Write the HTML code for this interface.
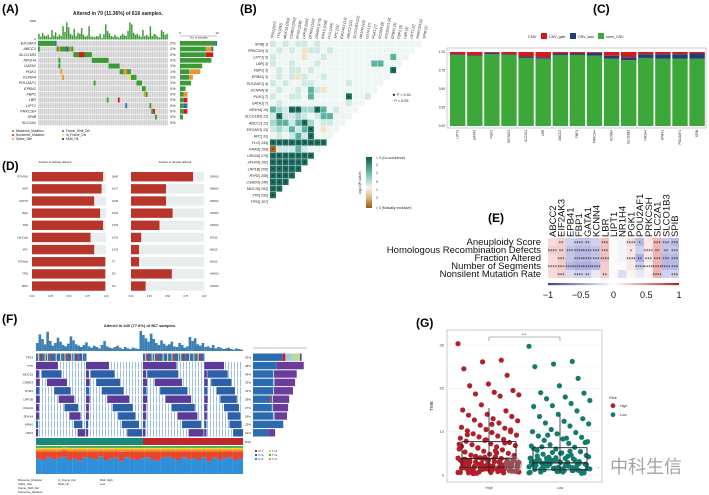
<!DOCTYPE html>
<html><head><meta charset="utf-8"><style>
html,body{margin:0;padding:0;background:#fff;}
svg{display:block;font-family:"Liberation Sans","Noto Sans CJK SC",sans-serif;}
</style></head><body>
<svg id="fig" width="709" height="495" viewBox="0 0 709 495" xmlns="http://www.w3.org/2000/svg">
<defs>
<pattern id="sparse" width="3" height="8" patternUnits="userSpaceOnUse"><rect x="0" y="0" width="0.9" height="8" fill="#8fb8dc"/></pattern>
<linearGradient id="cbar" x1="0" y1="0" x2="0" y2="1"><stop offset="0" stop-color="#0f5a4e"/><stop offset="0.35" stop-color="#7cc4b5"/><stop offset="0.6" stop-color="#f6f4ee"/><stop offset="0.8" stop-color="#dcb878"/><stop offset="1" stop-color="#9a5a12"/></linearGradient>
<linearGradient id="ecbar" x1="0" y1="0" x2="1" y2="0"><stop offset="0" stop-color="#3b3b9a"/><stop offset="0.5" stop-color="#ffffff"/><stop offset="1" stop-color="#b22222"/></linearGradient>
</defs>
<text x="2" y="13" font-size="12" font-weight="bold">(A)</text>
<text x="240" y="13" font-size="12" font-weight="bold">(B)</text>
<text x="593" y="13" font-size="12" font-weight="bold">(C)</text>
<text x="2" y="170" font-size="12" font-weight="bold">(D)</text>
<text x="488" y="222" font-size="12" font-weight="bold">(E)</text>
<text x="2" y="323" font-size="12" font-weight="bold">(F)</text>
<text x="416" y="327" font-size="12" font-weight="bold">(G)</text>
<g id="root"></g>
</svg>
<script>
// ---------- DATA ----------
const aGenes=["EIF2AK3","ABCC2","SLCO1B3","NR1H4","GATA1","PGK1","KCNN4","POU2AF1","EPB41","FBP1","LBR","LIPT1","PRKCSH","SPIB","SLC2A1"];
const aPct=["2%","2%","2%","2%","1%","1%","1%","1%","0%","0%","0%","0%","0%","0%","0%"];
const aTmb=[300,150,350,200,180,250,120,500,200,380,150,260,180,700,400,900,650,300,220,560,180,350,300,600,250,150,200,700,160,150,120,180,160,300,90,280,800,450,320,180,150,250,160,100,200,300,220,180,450,900,800,350,250,300,200,150,500,180,250,160,700,180,300,250,150,100,500,400,250,300];
const aMut=[[0,0,9,"g"],[0,9,1,"b"],[1,0,1,"g"],[1,10,9,"g"],[1,11,1,"o"],[1,15,1,"b"],[1,17,1,"o"],[2,19,10,"g"],[2,22,3,"r"],[3,29,9,"g"],[3,11,1,"g"],[4,38,6,"g"],[4,11,1,"g"],[5,44,6,"g"],[5,46,2,"o"],[5,12,1,"o"],[6,50,3,"g"],[6,13,1,"o"],[6,49,1,"y"],[7,53,3,"g"],[7,30,1,"g"],[8,56,2,"g"],[9,58,1,"g"],[9,57,1,"o"],[10,37,1,"g"],[10,43,1,"r"],[11,60,1,"g"],[11,47,1,"b"],[12,61,1,"g"],[12,62,1,"r"],[13,63,1,"g"]];
const aBarG=[9.5,7,7,8.5,6,2.5,2.5,3,1.5,1,1,1,1,0.8,0];
const aBarO=[0,1.5,0,0,0,3,1,0,0,1,0,0,0,0,0];
const aBarR=[0,0,2,0,0,0,0,0,0,0,1,0,1,0,0];
const aBarB=[0.5,0.5,0,0,0,0,0,0,0,0,0,1,0,0,0];

const bCols=["TP53 [307]","TTN [292]","MUC16 [253]","CSMD3 [240]","RYR2 [208]","LRP1B [200]","ZFHX4 [192]","USH2A [176]","KRAS [159]","FLG [144]","APC [31]","EIF2AK3 [13]","ABCC2 [12]","SLCO1B3 [12]","NR1H4 [10]","GATA1 [7]","PGK1 [7]","KCNN4 [6]","POU2AF1 [4]","EPB41 [3]","FBP1 [3]","LBR [3]","LIPT1 [2]","PRKCSH [1]","SPIB [1]"];
const bRows=["101011010000000000000000","01010a11010000000000000","10000a0010000000000300","100100010000000033","01011010000000000004","0101a100100","1010011000001","01001031a00","1001103000004001","0100000000001","32144224301","1411210133","2331342011","12131340a","0101314","444444444","b1113100","4444444","444444","44444","4444","444","44","4",""];

const cGenes=["LIPT1","GATA1","PGK1","EIF2AK3","SLC2A1","LBR","ABCC2","FBP1","PRKCSH","KCNN4","SLCO1B3","NR1H4","EPB41","POU2AF1","SPIB"];
const cGain=[0.03,0.04,0.01,0.03,0.06,0.07,0.02,0.02,0.01,0.05,0.07,0.03,0.03,0.03,0.02];
const cLoss=[0.01,0.01,0.02,0.01,0.02,0.02,0.02,0.02,0.04,0.04,0.04,0.05,0.06,0.06,0.07];
const cTicks=[0,0.25,0.5,0.75,1];

const dPaths=["RTK-RAS","WNT","NOTCH","Hippo","PI3K","Cell-Cycle","MYC","TGF-Beta","TP53","NRF2"];
const dLeft=[0.96,0.94,0.84,0.92,0.96,0.79,0.84,0.99,0.99,0.99];
const dRight=[0.85,0.48,0.48,0.57,0.39,0.14,0.11,0.11,0.56,0.20];
const dLeftN=["38/40","16/17","40/48","31/34","27/29","10/13","10/13","7/7","5/5","3/3"];
const dRightN=["529/616","298/616","296/616","352/616","240/616","87/616","68/616","66/616","344/616","124/616"];
const dTicks=["0.00","0.25","0.50","0.75","1.00"];

const eGenes=["ABCC2","EIF2AK3","EPB41","FBP1","GATA1","KCNN4","LBR","LIPT1","NR1H4","PGK1","POU2AF1","PRKCSH","SLC2A1","SLCO1B3","SPIB"];
const eRows=["Aneuploidy Score","Homologous Recombination Defects","Fraction Altered","Number of Segments","Nonsilent Mutation Rate"];
const eCorr=[[0.15,0.2,-0.2,-0.25,-0.25,-0.2,0.25,0.02,-0.05,0.15,-0.3,0.1,0.3,-0.25,-0.3],
[0.2,0.2,-0.25,-0.3,-0.3,-0.25,0.25,0.02,-0.05,0.1,-0.2,0.1,0.3,-0.25,-0.25],
[0.15,0.2,-0.25,-0.3,-0.3,-0.25,0.25,0.02,-0.05,0.1,-0.35,0.1,0.3,-0.3,-0.3],
[0.15,0.2,-0.3,-0.35,-0.35,-0.3,0.2,0.02,0.02,0.1,-0.2,0.05,0.3,-0.3,-0.3],
[0.15,0.2,-0.15,-0.2,-0.2,-0.1,0.2,0.02,-0.15,0.05,-0.1,0.05,0.3,-0.2,-0.2]];
const eStars=[["","**","","****","**","","***","","","****","*","","***","***","***"],
["****","**","***","****","****","***","***","","","*","","****","**","**","***"],
["","***","","****","****","***","****","","","****","**","***","***","***","***"],
["****","***","****","****","****","****","","","","","****","****","****","****","***"],
["","***","","****","**","","**","","","","","","****","","***"]];
const eTicks=[-1,-0.5,0,0.5,1];

const fGenes=["TP53","TTN","MUC16","CSMD3","RYR2","LRP1B","USH2A","ZFHX4","KRAS","LRP2"];
const fPct=["52%","48%","34%","33%","31%","28%","27%","26%","23%","21%"];
const fSeg=[[1,0,60,"p"],[1,137,200,"p"],[1,293,385,"p"],[1,461,515,"p"],
[2,0,8,"p"],[2,15,70,"b"],[2,137,145,"p"],[2,150,215,"b"],[2,293,302,"p"],[2,305,390,"b"],[2,461,468,"p"],[2,470,525,"b"],
[3,0,10,"p"],[3,30,85,"p"],[3,137,147,"p"],[3,165,230,"b"],[3,293,304,"p"],[3,325,400,"p"],[3,461,470,"p"],[3,480,535,"b"],
[4,0,9,"b"],[4,50,95,"b"],[4,137,146,"b"],[4,180,240,"b"],[4,293,303,"b"],[4,340,415,"b"],[4,461,469,"b"],[4,495,545,"b"],
[5,0,10,"p"],[5,62,105,"p"],[5,137,147,"p"],[5,195,255,"p"],[5,293,304,"p"],[5,355,425,"p"],[5,461,470,"p"],[5,505,550,"b"],
[6,0,8,"p"],[6,78,115,"b"],[6,137,145,"p"],[6,210,265,"b"],[6,293,302,"p"],[6,372,435,"b"],[6,461,468,"p"],[6,515,556,"b"],
[7,0,8,"p"],[7,92,122,"p"],[7,137,145,"p"],[7,225,272,"b"],[7,293,302,"p"],[7,388,442,"p"],[7,461,468,"p"],[7,525,560,"b"],
[8,0,6,"b"],[8,104,127,"b"],[8,137,143,"b"],[8,235,282,"b"],[8,293,300,"b"],[8,400,452,"b"],[8,461,467,"b"],[8,530,563,"b"],
[9,0,6,"p"],[9,114,135,"p"],[9,137,143,"p"],[9,250,291,"b"],[9,293,300,"p"],[9,418,459,"p"],[9,461,467,"p"],[9,540,567,"b"]];
const fTp53=[[0,137],[293,461]];
const fTp53Cols="bbgrbpbbybgbbrbbpbgbbbyb";
const fTop=[1.2,2.5,1.8,1,2.9,1.5,0.8,1.2,2,1.4,0.9,0.7,1.1,2.2,1.6,1,0.8,0.6,0.9,1.3,0.7,0.5,0.8,0.6,0.4,0.9,1.5,0.7,0.5,0.4,0.6,0.8,0.5,0.3,0.6,0.4,0.3,0.5,0.4,0.3,3,2.4,1.9,1.4,2.6,1.8,1.2,0.9,1.6,1.1,0.8,1,1.4,0.7,0.6,1.2,0.9,0.5,0.7,2.1,1.5,1.9,1,0.8,1.2,0.6,0.7,0.5,0.9,0.4,0.6,0.5,0.3,0.4,0.5,0.3,0.2,0.4,0.3,0.2];
const fRisk=[[0,293,"#1a8a78"],[293,567,"#c0262d"]];
const fRightB=[55,44,37,37,37,33,35,37,56,28];
const fRightR=[5,0,0,0,0,2,0,0,0,0];
const fRightL=[12,0,2,3,2,2,2,3,0,0];
const fRightG=[15,0,0,0,0,0,0,0,0,0];
const fRightP=[3,50,42,38,35,30,28,23,0,13];
const fBlue=[0.55,0.5,0.6,0.52,0.58,0.62,0.5,0.55,0.48,0.6,0.57,0.52,0.63,0.5,0.55,0.58,0.46,0.6,0.54,0.5,0.56,0.6,0.52,0.48,0.58,0.62,0.55,0.5,0.6,0.53,0.57,0.5,0.6,0.45,0.58,0.52,0.56,0.6,0.5,0.55];
const fRed=[0.25,0.3,0.2,0.28,0.22,0.2,0.3,0.25,0.32,0.2,0.23,0.28,0.18,0.3,0.25,0.22,0.33,0.2,0.26,0.3,0.24,0.2,0.28,0.32,0.22,0.18,0.25,0.3,0.2,0.27,0.23,0.3,0.2,0.35,0.22,0.28,0.24,0.2,0.3,0.25];
const fOrange=[0.08,0.08,0.08,0.08,0.08,0.07,0.08,0.08,0.08,0.08,0.08,0.08,0.07,0.08,0.08,0.08,0.09,0.08,0.08,0.08,0.08,0.08,0.08,0.08,0.08,0.08,0.08,0.08,0.08,0.08,0.08,0.08,0.08,0.08,0.08,0.08,0.08,0.08,0.08,0.08];
const fYellow=[0.05,0.05,0.05,0.05,0.05,0.05,0.05,0.05,0.05,0.05,0.05,0.05,0.05,0.05,0.05,0.05,0.05,0.05,0.05,0.05,0.05,0.05,0.05,0.05,0.05,0.05,0.05,0.05,0.05,0.05,0.05,0.05,0.05,0.05,0.05,0.05,0.05,0.05,0.05,0.05];

const gHigh=[30.3,26.5,26.1,24.5,23,21,20.6,19.5,19.1,18.7,18.5,18.2,16.2,15,14.8,14,13.8,13.5,13,12.7,12.5,12,11.5,11,10.8,10.5,10.2,10,9.8,9.5,9.2,9,8.8,8.5,8.2,8,7.8,7.5,7.2,7,6.8,6.5,6.2,6,5.8,5.5,5.3,5,4.8,4.6,4.4,4.2,4,3.9,3.8,3.7,3.6,3.5,3.4,3.3,3.2,3.1,3,2.9,2.8,2.7,2.6,2.5,2.4,2.3,2.2,2.1,2,1.9,1.8,1.7,1.6,1.5,1.4,1.3,1.2,1.1,1,0.9,0.8,0.7,0.6,0.5,4.1,3.3,2.6,1.9,1.4,0.9,5.1,6.3,7.1,2.2,1.5,3.6,2.8,1.2,0.8,4.5,5.6,0.4,0.6,1,1.3,1.7,2.1,2.4,2.9,3.2,3.8,4.3,0.7,1.1,1.6,2,2.7,3.5,0.5,0.9,1.4,1.8,2.3,3,4,6.6,7.4,8.1,9.3,10.4,11.7,0.3,0.8,1.2,2.5,3.4,1.5,2,2.6,1,0.6];
const gLow=[29.7,26.2,25.6,25,22.3,20.6,19,18.9,18,17.6,17.2,16.5,16,15.8,14.8,14,13.5,13,12.4,12,11.8,11.3,10.5,10,9.8,9.5,9,8.7,8.3,8,7.7,7.3,7,6.7,6.4,6,5.7,5.4,5.1,4.8,4.5,4.3,4.1,3.9,3.7,3.5,3.3,3.1,2.9,2.7,2.5,2.3,2.1,1.9,1.7,1.5,1.3,1.1,0.9,0.7,0.5,3.8,2.6,1.4,4.6,5.2,6.1,2.2,1.8,3.3,0.6,1,2.8,4.2,5.5,3.4,2.4,1.6,0.8,3.6,0.4,0.7,1.2,1.5,2,2.5,3,3.5,4,4.4,0.9,1.4,1.9,2.4,2.9,3.2,0.6,1.1,1.6,2.2,2.7,5,6.5,7.5,8.5,9.2,0.5,1,1.5,2,2.6,3.1,1.3,0.8,2.1,3.9];
const gBoxHigh=[0.5,1.8,3.8,7.7,15.5];
const gBoxLow=[0.4,1.2,2.8,6.3,13.8];
const gTicks=[0,10,20,30];

// ---------- HELPERS ----------
const NS="http://www.w3.org/2000/svg";
const root=document.getElementById("root");
function mk(tag,attrs,parent){const e=document.createElementNS(NS,tag);for(const k in attrs)e.setAttribute(k,attrs[k]);(parent||root).appendChild(e);return e;}
function tx(str,x,y,size,extra,parent){const a=Object.assign({x:x,y:y,"font-size":size,fill:"#222"},extra||{});const e=mk("text",a,parent);e.textContent=str;return e;}
const COL={g:"#3a9a35",o:"#e8962e",r:"#d7191c",b:"#2b6cb0",y:"#f5e050",p:"#6a3d9a",m:"#2b6cb0"};

// ---------- PANEL A ----------
(function(){
  const x0=38,x1=168,n=70,cw=(x1-x0)/n,y0=40.5,rh=5.67;
  const g=mk("g",{});  
  let t=tx("Altered in 70 (11.36%) of 616 samples.",118,15,5,{"text-anchor":"middle","font-weight":"bold"},g);
   
  const yT=v=>39.5-(v/1000)*19;
  aTmb.forEach((v,i)=>{const r=mk("rect",{x:x0+i*cw+0.2,y:yT(v),width:cw-0.4,height:39.5-yT(v),fill:"#3a9a35"},g);
     });
  t=tx("1000",36,22,3,{"text-anchor":"end"},g);  
  t=tx("0",36,40,3,{"text-anchor":"end"},g);  
  aGenes.forEach((gn,r)=>{
    for(let c=0;c<n;c++){const e=mk("rect",{x:x0+c*cw+0.15,y:y0+r*rh+0.3,width:cw-0.3,height:rh-0.6,fill:"#d0d0d0"},g);
       }
    let l=tx(gn,36,y0+r*rh+4,3.8,{"text-anchor":"end","font-style":"italic"},g);
     
    l=tx(aPct[r],170,y0+r*rh+4,3.8,{},g);
     
  });
  aMut.forEach(m=>{const e=mk("rect",{x:x0+m[1]*cw,y:y0+m[0]*rh+0.3,width:m[2]*cw,height:rh-0.6,fill:COL[m[3]]},g);
     });
  const bx=180,bs=3.7;
  aGenes.forEach((gn,r)=>{let x=bx;[[aBarG,"g"],[aBarO,"o"],[aBarR,"r"],[aBarB,"b"]].forEach(s=>{const v=s[0][r];if(v>0){const e=mk("rect",{x:x,y:y0+r*rh+0.5,width:v*bs,height:rh-1,fill:COL[s[1]]},g);
      x+=v*bs;}});});
  mk("line",{x1:180,y1:36,x2:217,y2:36,stroke:"#333","stroke-width":0.3},g);
  t=tx("0",180,34,3,{"text-anchor":"middle"},g);  
  t=tx("10",217,34,3,{"text-anchor":"middle"},g);  
  t=tx("No. of samples",199,38.5,2.6,{"text-anchor":"middle"},g);  
  const leg=[["Missense_Mutation","g",16,132],["Nonsense_Mutation","r",16,136],["Splice_Site","o",16,140],["Frame_Shift_Del","b",66,132],["In_Frame_Del","y",66,136],["Multi_Hit","#222",66,140]];
  leg.forEach(L=>{const c=mk("circle",{cx:L[2]-3,cy:L[3]-1,r:1,fill:COL[L[1]]||L[1]},g);
     
    const e=tx(L[0],L[2],L[3],3.2,{},g);  });
})();

// ---------- PANEL B ----------
(function(){
  const g=mk("g",{});  
  const x0=270,pw=6.33,y0=40.7,ph=6.58;
  const fill={"0":"#eef6f4","1":"#cfe9e3","2":"#a5d7cc","3":"#5fb3a3","4":"#1d6b5f","a":"#f2e3c6","b":"#a8661c"};
  const nrow=bCols.length;
  for(let r=0;r<nrow;r++){
    const len=nrow-1-r; let s=bRows[r]; while(s.length<len)s+="0"; s=s.slice(0,len);
    for(let c=0;c<len;c++){const ch=s[c];
      const e=mk("rect",{x:x0+c*pw,y:y0+r*ph,width:pw-0.4,height:ph-0.4,fill:fill[ch]},g);
       
      if(ch==="4"||ch==="b"){const st=tx("*",x0+c*pw+pw/2-0.2,y0+r*ph+ph-0.6,5,{"text-anchor":"middle",fill:"#111"},g);
         }
      else if(ch==="3"){const st=tx("·",x0+c*pw+pw/2-0.2,y0+r*ph+ph-1.5,4,{"text-anchor":"middle",fill:"#111"},g);
         }
    }
    const lbl=bCols[nrow-1-r].replace(" [","[ ");
    const l=tx(lbl,x0-2,y0+r*ph+4.6,3.6,{"text-anchor":"end","font-style":"italic"},g);
     
  }
  bCols.forEach((c,i)=>{const x=x0+i*pw+pw/2;const l=tx(c,x,39,3.6,{"font-style":"italic",transform:`rotate(-80 ${x} 39)`},g);
     });
  let t=tx("★  P < 0.01",392,96,3.8,{},g);  
  t=tx("·  P < 0.05",392,102,3.8,{},g);  
  const cb=mk("rect",{x:366,y:157,width:6,height:51,fill:"url(#cbar)"},g);  
  const cl=[["> 3 (Co-occurence)",159],["2",166],["1",174],["0",183],["1",191],["2",199],["> 3 (Mutually exclusive)",209]];
  cl.forEach(L=>{const e=tx(L[0],376,L[1],3.4,{},g);  });
  t=tx("-log10(P-value)",361,183,3.4,{"text-anchor":"middle",transform:"rotate(-90 361 183)"},g);  
})();

// ---------- PANEL C ----------
(function(){
  const g=mk("g",{});  
  const fr=mk("rect",{x:447,y:48,width:259,height:80,fill:"#fff",stroke:"#999","stroke-width":0.5},g);
   
  const yS=v=>126-v*74, pitch=17.1, x0=450;
  cGenes.forEach((gn,i)=>{const x=x0+i*pitch;
    const segs=[[0,1-cGain[i]-cLoss[i],"#3da83a","bar-none-cnv"],[1-cGain[i]-cLoss[i],1-cGain[i],"#1f3f7a","bar-cnv-loss"],[1-cGain[i],1,"#d7191c","bar-cnv-gain"]];
    segs.forEach(s=>{const e=mk("rect",{x:x,y:yS(s[1]),width:15.4,height:yS(s[0])-yS(s[1]),fill:s[2]},g);
       });
    const l=tx(gn,x+8.5,130,3.2,{"text-anchor":"end",transform:`rotate(-90 ${x+8.5} 130)`},g);
     });
  cTicks.forEach(v=>{const l=tx(v.toFixed(2),445,yS(v)+1,3.2,{"text-anchor":"end"},g);
     });
  let t=tx("CNV",528,38,4,{},g);  
  [["CNV_gain","#d7191c",541],["CNV_loss","#1f3f7a",570],["none_CNV","#3da83a",598]].forEach(L=>{
    const r=mk("rect",{x:L[2],y:33,width:6,height:6,fill:L[1]},g);  
    const e=tx(L[0],L[2]+8,38,3.6,{},g);  });
})();

// ---------- PANEL D ----------
(function(){
  const g=mk("g",{});  
  let t=tx("Fraction of pathway affected",55,163,2.6,{"text-anchor":"middle"},g);  
  t=tx("Fraction of samples affected",175,163,2.6,{"text-anchor":"middle"},g);  
  const y0=172,pitch=12.15,bh=9.4;
  [[32,106,dLeft,dLeftN,112],[131,204,dRight,dRightN,210]].forEach(P=>{
    const xs=v=>P[0]+v*(P[1]-P[0]);
    dPaths.forEach((p,i)=>{const y=y0+i*pitch;
      const bg=mk("rect",{x:P[0],y:y,width:P[1]-P[0],height:bh,fill:"#e8eded"},g);  
      const b=mk("rect",{x:P[0],y:y,width:xs(P[2][i])-P[0],height:bh,fill:"#b7352b"},g);  
      const n=tx(P[3][i],P[4],y+5.5,2.4,{},g);  
      if(P[0]===32){const l=tx(p,28,y+5.5,2.4,{"text-anchor":"end"},g);  }
    });
    dTicks.forEach((v,i)=>{const x=xs(i/4);const l=tx(v,x,297,2.4,{"text-anchor":"middle"},g);
       });
  });
})();

// ---------- PANEL E ----------
(function(){
  const g=mk("g",{});  
  const x0=548,x1=679,cw=(x1-x0)/eGenes.length,y0=238,rh=8;
  function col(v){const a=Math.min(1,Math.abs(v)*1.6);const c=v>=0?[220,100,100]:[110,110,200];
    return `rgb(${Math.round(255-(255-c[0])*a)},${Math.round(255-(255-c[1])*a)},${Math.round(255-(255-c[2])*a)})`;}
  eRows.forEach((rn,r)=>{
    eGenes.forEach((gn,c)=>{const e=mk("rect",{x:x0+c*cw,y:y0+r*rh,width:cw,height:rh,fill:col(eCorr[r][c])},g);
       
      if(eStars[r][c]){const s=tx(eStars[r][c],x0+c*cw+cw/2,y0+r*rh+7.5,6,{"text-anchor":"middle",fill:"#333"},g);
         }});
    const l=tx(rn,541,y0+r*rh+7,9.5,{"text-anchor":"end",fill:"#111"},g);  
  });
  eGenes.forEach((gn,c)=>{const x=x0+c*cw+cw/2+3.5;const l=tx(gn,x,237,9.5,{fill:"#111",transform:`rotate(-90 ${x} 237)`},g);
     });
  const cb=mk("rect",{x:x0,y:283,width:x1-x0,height:2.2,fill:"url(#ecbar)"},g);  
  const xs=v=>x0+(v+1)/2*(x1-x0);
  eTicks.forEach(v=>{const l=tx(String(v).replace("-","−"),xs(v),298,9,{"text-anchor":"middle",fill:"#111"},g);
     });
})();

// ---------- PANEL F ----------
(function(){
  const g=mk("g",{});  
  const N=567,x0=36,x1=243,xs=s=>x0+s/N*(x1-x0),y0=353,rh=8.4;
  let t=tx("Altered in 440 (77.6%) of 567 samples.",140,327,4,{"text-anchor":"middle","font-weight":"bold"},g);  
  const bw=(x1-x0)/fTop.length;
  fTop.forEach((v,i)=>{const h=v/3*20;const b=mk("rect",{x:x0+i*bw,y:351-h,width:bw,height:h,fill:"#3a7fb5"},g);
     });
  fGenes.forEach((gn,r)=>{
    if(r>0){const bg=mk("rect",{x:x0,y:y0+r*rh+0.5,width:x1-x0,height:rh-1,fill:"url(#sparse)"},g);
       }
    let l=tx(gn,33,y0+r*rh+5.5,3,{"text-anchor":"end"},g);  
    l=tx(fPct[r],245,y0+r*rh+5.5,3,{},g);  
  });
  fTp53.forEach(seg=>{const n=Math.round((seg[1]-seg[0])/3);
    for(let k=0;k<n;k++){const ch=fTp53Cols[k%fTp53Cols.length];const s=seg[0]+k*3;
      const e=mk("rect",{x:xs(s),y:y0+0.5,width:xs(s+3)-xs(s)+0.1,height:rh-1,fill:ch==="b"?"#2b6cb0":ch==="g"?"#b8dca0":ch==="r"?"#d7191c":ch==="y"?"#e8d070":"#6a3d9a"},g);
       }});
  fSeg.forEach(s=>{const e=mk("rect",{x:xs(s[1]),y:y0+s[0]*rh+0.5,width:xs(s[2])-xs(s[1]),height:rh-1,fill:s[3]==="p"?"#5b3a9a":"#2b5fa8"},g);
     });
  fRisk.forEach(s=>{const e=mk("rect",{x:xs(s[0]),y:438,width:xs(s[1])-xs(s[0]),height:7,fill:s[2]},g);
     });
  t=tx("Risk",245,443,3,{},g);  
  const sw=(x1-x0)/fBlue.length, sy0=474, sh=28;
  fBlue.forEach((b,i)=>{let y=sy0;const parts=[[b,"#2f8fd8"],[fRed[i],"#e8452c"],[fOrange[i],"#f08a24"],[fYellow[i],"#f2d22e"],[1-b-fRed[i]-fOrange[i]-fYellow[i],"#4daf4a"]];
    parts.forEach(p=>{const h=p[0]*sh;const e=mk("rect",{x:x0+i*sw,y:y-h,width:sw+0.1,height:h,fill:p[1]},g);
        y-=h;});});
  const rx0=253,rs=0.54;
  mk("line",{x1:253,y1:348,x2:307,y2:348,stroke:"#333","stroke-width":0.3},g);
  fGenes.forEach((gn,r)=>{let x=rx0;[[fRightB,"#2b6cb0"],[fRightR,"#d7191c"],[fRightL,"#a8c8e0"],[fRightG,"#b8dca0"],[fRightP,"#6a3d9a"]].forEach(s=>{const v=s[0][r];if(v>0){
    const e=mk("rect",{x:x,y:y0+r*rh+0.5,width:v*rs,height:rh-1,fill:s[1]},g);
      x+=v*rs;}});});
  [["C>T","#d7191c",258,452],["C>G","#2b5fa8",258,456],["C>A","#2f8fd8",258,460],["T>A","#f2d22e",272,452],["T>G","#4daf4a",272,456],["T>C","#f08a24",272,460]].forEach(L=>{
    const c=mk("rect",{x:L[2]-3,y:L[3]-2,width:2,height:2,fill:L[1]},g);  
    const e=tx(L[0],L[2],L[3],2.8,{},g);  });
  [["Missense_Mutation",18,481],["Splice_Site",18,485],["Frame_Shift_Del",18,489],["Nonsense_Mutation",18,493],["In_Frame_Del",58,481],["Multi_Hit",58,485],["Risk: High",100,481],["Low",100,485]].forEach(L=>{
    const e=tx(L[0],L[1],L[2],2.8,{},g);  });
})();

// ---------- PANEL G ----------
(function(){
  const g=mk("g",{});  
  const px0=447,px1=602,pyT=330,pyB=482,ys=v=>475-v*(130/30);
  const fr=mk("rect",{x:px0,y:pyT,width:px1-px0,height:pyB-pyT,fill:"#fff",stroke:"#aaa","stroke-width":0.6},g);
   
  [0,5,10,15,20,25,30].forEach(v=>{const l=mk("line",{x1:px0,x2:px1,y1:ys(v),y2:ys(v),stroke:"#ececec","stroke-width":v%10?0.3:0.6},g);
     });
  gTicks.forEach(v=>{const l=tx(String(v),444,ys(v)+1.3,4,{"text-anchor":"end",fill:"#444"},g);
     });
  let t=tx("TMB",433,406,4.5,{"text-anchor":"middle",transform:"rotate(-90 433 406)"},g);  
  const groups=[[gHigh,gBoxHigh,489,"#b11f2a","High"],[gLow,gBoxLow,560,"#137a6e","Low"]];
  groups.forEach(G=>{
    G[0].forEach((v,i)=>{const jx=((i*37)%53)/53-0.5;const c=mk("circle",{cx:G[2]+jx*62,cy:ys(v),r:2.6,fill:G[3]},g);
       });
  });
  groups.forEach(G=>{const b=G[1],x=G[2],w=27;
    const wl=mk("line",{x1:x,x2:x,y1:ys(b[4]),y2:ys(b[0]),stroke:"#222","stroke-width":0.8},g);  
    const r=mk("rect",{x:x-w,y:ys(b[3]),width:2*w,height:ys(b[1])-ys(b[3]),fill:"none",stroke:"#222","stroke-width":0.9},g);  
    const m=mk("line",{x1:x-w,x2:x+w,y1:ys(b[2]),y2:ys(b[2]),stroke:"#222","stroke-width":1.3},g);  
    const l=tx(G[4],x,489,3.6,{"text-anchor":"middle",fill:"#444"},g);  });
  const br=mk("path",{d:"M489 341 V337 H560 V341",fill:"none",stroke:"#777","stroke-width":0.6},g);  
  t=tx("***",524,336,4,{"text-anchor":"middle",fill:"#444"},g);  
  t=tx("Risk",609,399,4,{fill:"#333"},g);  
  [["High","#b11f2a",407],["Low","#137a6e",416]].forEach(L=>{const c=mk("circle",{cx:613,cy:L[2]-1.3,r:2.4,fill:L[1]},g);
     
    const e=tx(L[0],620,L[2],3.6,{fill:"#333"},g);  });
  const wc=mk("circle",{cx:513,cy:465,r:9,fill:"#888","fill-opacity":0.45},g);  
  t=tx("中科生信",610,473,18,{fill:"#a3a3a3"},g);  
  t=tx("·",597,470,10,{fill:"#a3a3a3"},g);  
})();
</script>
</body></html>
